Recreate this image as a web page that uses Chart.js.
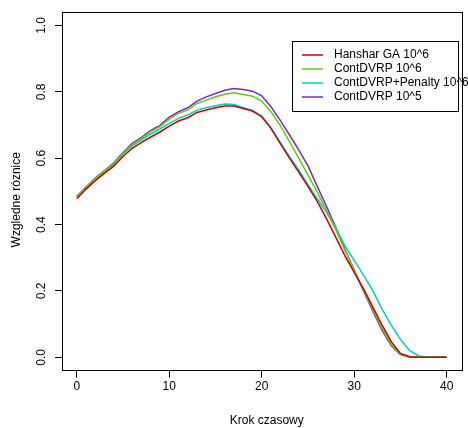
<!DOCTYPE html>
<html>
<head>
<meta charset="utf-8">
<script src="https://cdn.jsdelivr.net/npm/chart.js@4/dist/chart.umd.min.js"></script>
<style>
  html, body { margin: 0; padding: 0; background: #fff; }
  #wrap { width: 468px; height: 428px; position: relative; }
</style>
</head>
<body>
<div id="wrap"><canvas id="chart"></canvas></div>
<script>
/* global Chart */

const STEPS = [0, 1, 2, 3, 4, 5, 6, 7, 8, 9, 10, 11, 12, 13, 14, 15, 16, 17, 18, 19, 20,
    21, 22, 23, 24, 25, 26, 27, 28, 29, 30, 31, 32, 33, 34, 35, 36, 37, 38, 39, 40];

const HANSHAR_GA_1E6 = [0.478, 0.507, 0.532, 0.555, 0.576, 0.605, 0.630, 0.648, 0.664, 0.679, 0.697,
    0.712, 0.722, 0.738, 0.745, 0.752, 0.757, 0.757, 0.750, 0.742, 0.725,
    0.690, 0.645, 0.600, 0.558, 0.515, 0.470, 0.418, 0.362, 0.306, 0.256,
    0.207, 0.152, 0.098, 0.047, 0.012, 0.002, 0.000, 0.000, 0.000, 0.000];

const CONTDVRP_1E6 = [0.483, 0.512, 0.538, 0.562, 0.584, 0.615, 0.641, 0.660, 0.680, 0.695, 0.718,
    0.735, 0.745, 0.765, 0.775, 0.785, 0.793, 0.797, 0.792, 0.787, 0.772,
    0.740, 0.699, 0.650, 0.600, 0.549, 0.498, 0.442, 0.385, 0.322, 0.262,
    0.203, 0.145, 0.088, 0.038, 0.010, 0.002, 0.000, 0.000, 0.000, 0.000];

const CONTDVRP_PENALTY_1E6 = [0.482, 0.510, 0.536, 0.560, 0.580, 0.612, 0.637, 0.655, 0.673, 0.688, 0.705,
    0.720, 0.730, 0.745, 0.752, 0.758, 0.763, 0.762, 0.752, 0.745, 0.727,
    0.692, 0.648, 0.605, 0.565, 0.520, 0.478, 0.437, 0.390, 0.336, 0.292,
    0.248, 0.202, 0.146, 0.097, 0.054, 0.020, 0.004, 0.000, 0.000, 0.000];

const CONTDVRP_1E5 = [0.485, 0.513, 0.540, 0.563, 0.586, 0.617, 0.645, 0.663, 0.684, 0.699, 0.724,
    0.740, 0.752, 0.772, 0.785, 0.795, 0.805, 0.810, 0.807, 0.802, 0.788,
    0.755, 0.714, 0.670, 0.625, 0.577, 0.515, 0.455, 0.392, 0.325, 0.262,
    0.200, 0.140, 0.082, 0.035, 0.008, 0.001, 0.000, 0.000, 0.000, 0.000];

const SERIES_LABELS = ['Hanshar GA 10^6', 'ContDVRP 10^6', 'ContDVRP+Penalty 10^6', 'ContDVRP 10^5'];
const SERIES_COLORS = ['#CD0000', '#66CD00', '#00CDCD', '#7D26CD'];
const SERIES_VALUES = [HANSHAR_GA_1E6, CONTDVRP_1E6, CONTDVRP_PENALTY_1E6, CONTDVRP_1E5];

const X_TICKS = [0, 10, 20, 30, 40];
const Y_TICKS = [0.0, 0.2, 0.4, 0.6, 0.8, 1.0];

const FONT = 'Liberation Sans';

// R-like frame around the plot region
const boxPlugin = {
    id: 'box',
    afterDraw(chart) {
        const { ctx, chartArea: a } = chart;
        ctx.save();
        ctx.strokeStyle = '#000';
        ctx.lineWidth = 1;
        ctx.strokeRect(Math.round(a.left) + 0.5, Math.round(a.top) + 0.5,
            Math.round(a.right - a.left), Math.round(a.bottom - a.top));
        ctx.restore();
    }
};

// legend drawn inside the plot, top right
const legendPlugin = {
    id: 'rlegend',
    afterDatasetsDraw(chart) {
        const { ctx } = chart;
        const x = 292, y = 41, w = 166, h = 70;
        ctx.save();
        ctx.fillStyle = '#fff';
        ctx.fillRect(x, y, w, h);
        ctx.strokeStyle = '#000';
        ctx.lineWidth = 1;
        ctx.strokeRect(x + 0.5, y + 0.5, w, h);
        ctx.font = `12px "${FONT}"`;
        ctx.textBaseline = 'middle';
        ctx.textAlign = 'left';
        chart.data.datasets.forEach((ds, i) => {
            const ly = y + 14 + i * 14;
            ctx.strokeStyle = ds.borderColor;
            ctx.lineWidth = 1.5;
            ctx.beginPath();
            ctx.moveTo(x + 10, ly);
            ctx.lineTo(x + 31, ly);
            ctx.stroke();
            ctx.fillStyle = '#000';
            ctx.fillText(ds.label, x + 42, ly);
        });
        ctx.restore();
    }
};

new Chart(document.getElementById('chart'), {
    type: 'line',
    data: {
        datasets: SERIES_LABELS.map((label, i) => ({
            label,
            data: STEPS.map((s, j) => ({ x: s, y: SERIES_VALUES[i][j] })),
            borderColor: SERIES_COLORS[i],
            backgroundColor: SERIES_COLORS[i],
            borderWidth: 1.5,
            pointRadius: 0,
            tension: 0,
            fill: false
        }))
    },
    options: {
        responsive: true,
        maintainAspectRatio: false,
        animation: false,
        devicePixelRatio: 1,
        layout: { padding: { top: 4.4, right: 6.5, left: 0, bottom: 0 } },
        plugins: {
            legend: { display: false },
            tooltip: { enabled: false }
        },
        scales: {
            x: {
                type: 'linear',
                min: -1.6,
                max: 41.6,
                afterBuildTicks: s => { s.ticks = X_TICKS.map(v => ({ value: v })); },
                afterFit: s => { s.height = 57.4; },
                grid: { drawOnChartArea: false, drawTicks: true, tickLength: 7, color: '#000' },
                border: { display: true, color: '#000' },
                ticks: {
                    color: '#000',
                    font: { family: FONT, size: 12 },
                    padding: 2,
                    maxRotation: 0,
                    autoSkip: false
                },
                title: {
                    display: true,
                    text: '   Krok czasowy',
                    color: '#000',
                    font: { family: FONT, size: 12 },
                    padding: 0
                }
            },
            y: {
                min: -0.04,
                max: 1.04,
                afterBuildTicks: s => { s.ticks = Y_TICKS.map(v => ({ value: v })); },
                afterFit: s => { s.width = 62; },
                grid: { drawOnChartArea: false, drawTicks: true, tickLength: 7, color: '#000' },
                border: { display: true, color: '#000' },
                ticks: {
                    color: '#000',
                    font: { family: FONT, size: 12 },
                    padding: 5,
                    minRotation: 90,
                    maxRotation: 90,
                    crossAlign: 'center',
                    autoSkip: false,
                    callback: v => v.toFixed(1)
                },
                title: {
                    display: true,
                    text: 'Wzgledne róznice     ',
                    color: '#000',
                    font: { family: FONT, size: 12 },
                    padding: { top: 9, bottom: 0 }
                }
            }
        }
    },
    plugins: [boxPlugin, legendPlugin]
});
</script>
</body>
</html>
